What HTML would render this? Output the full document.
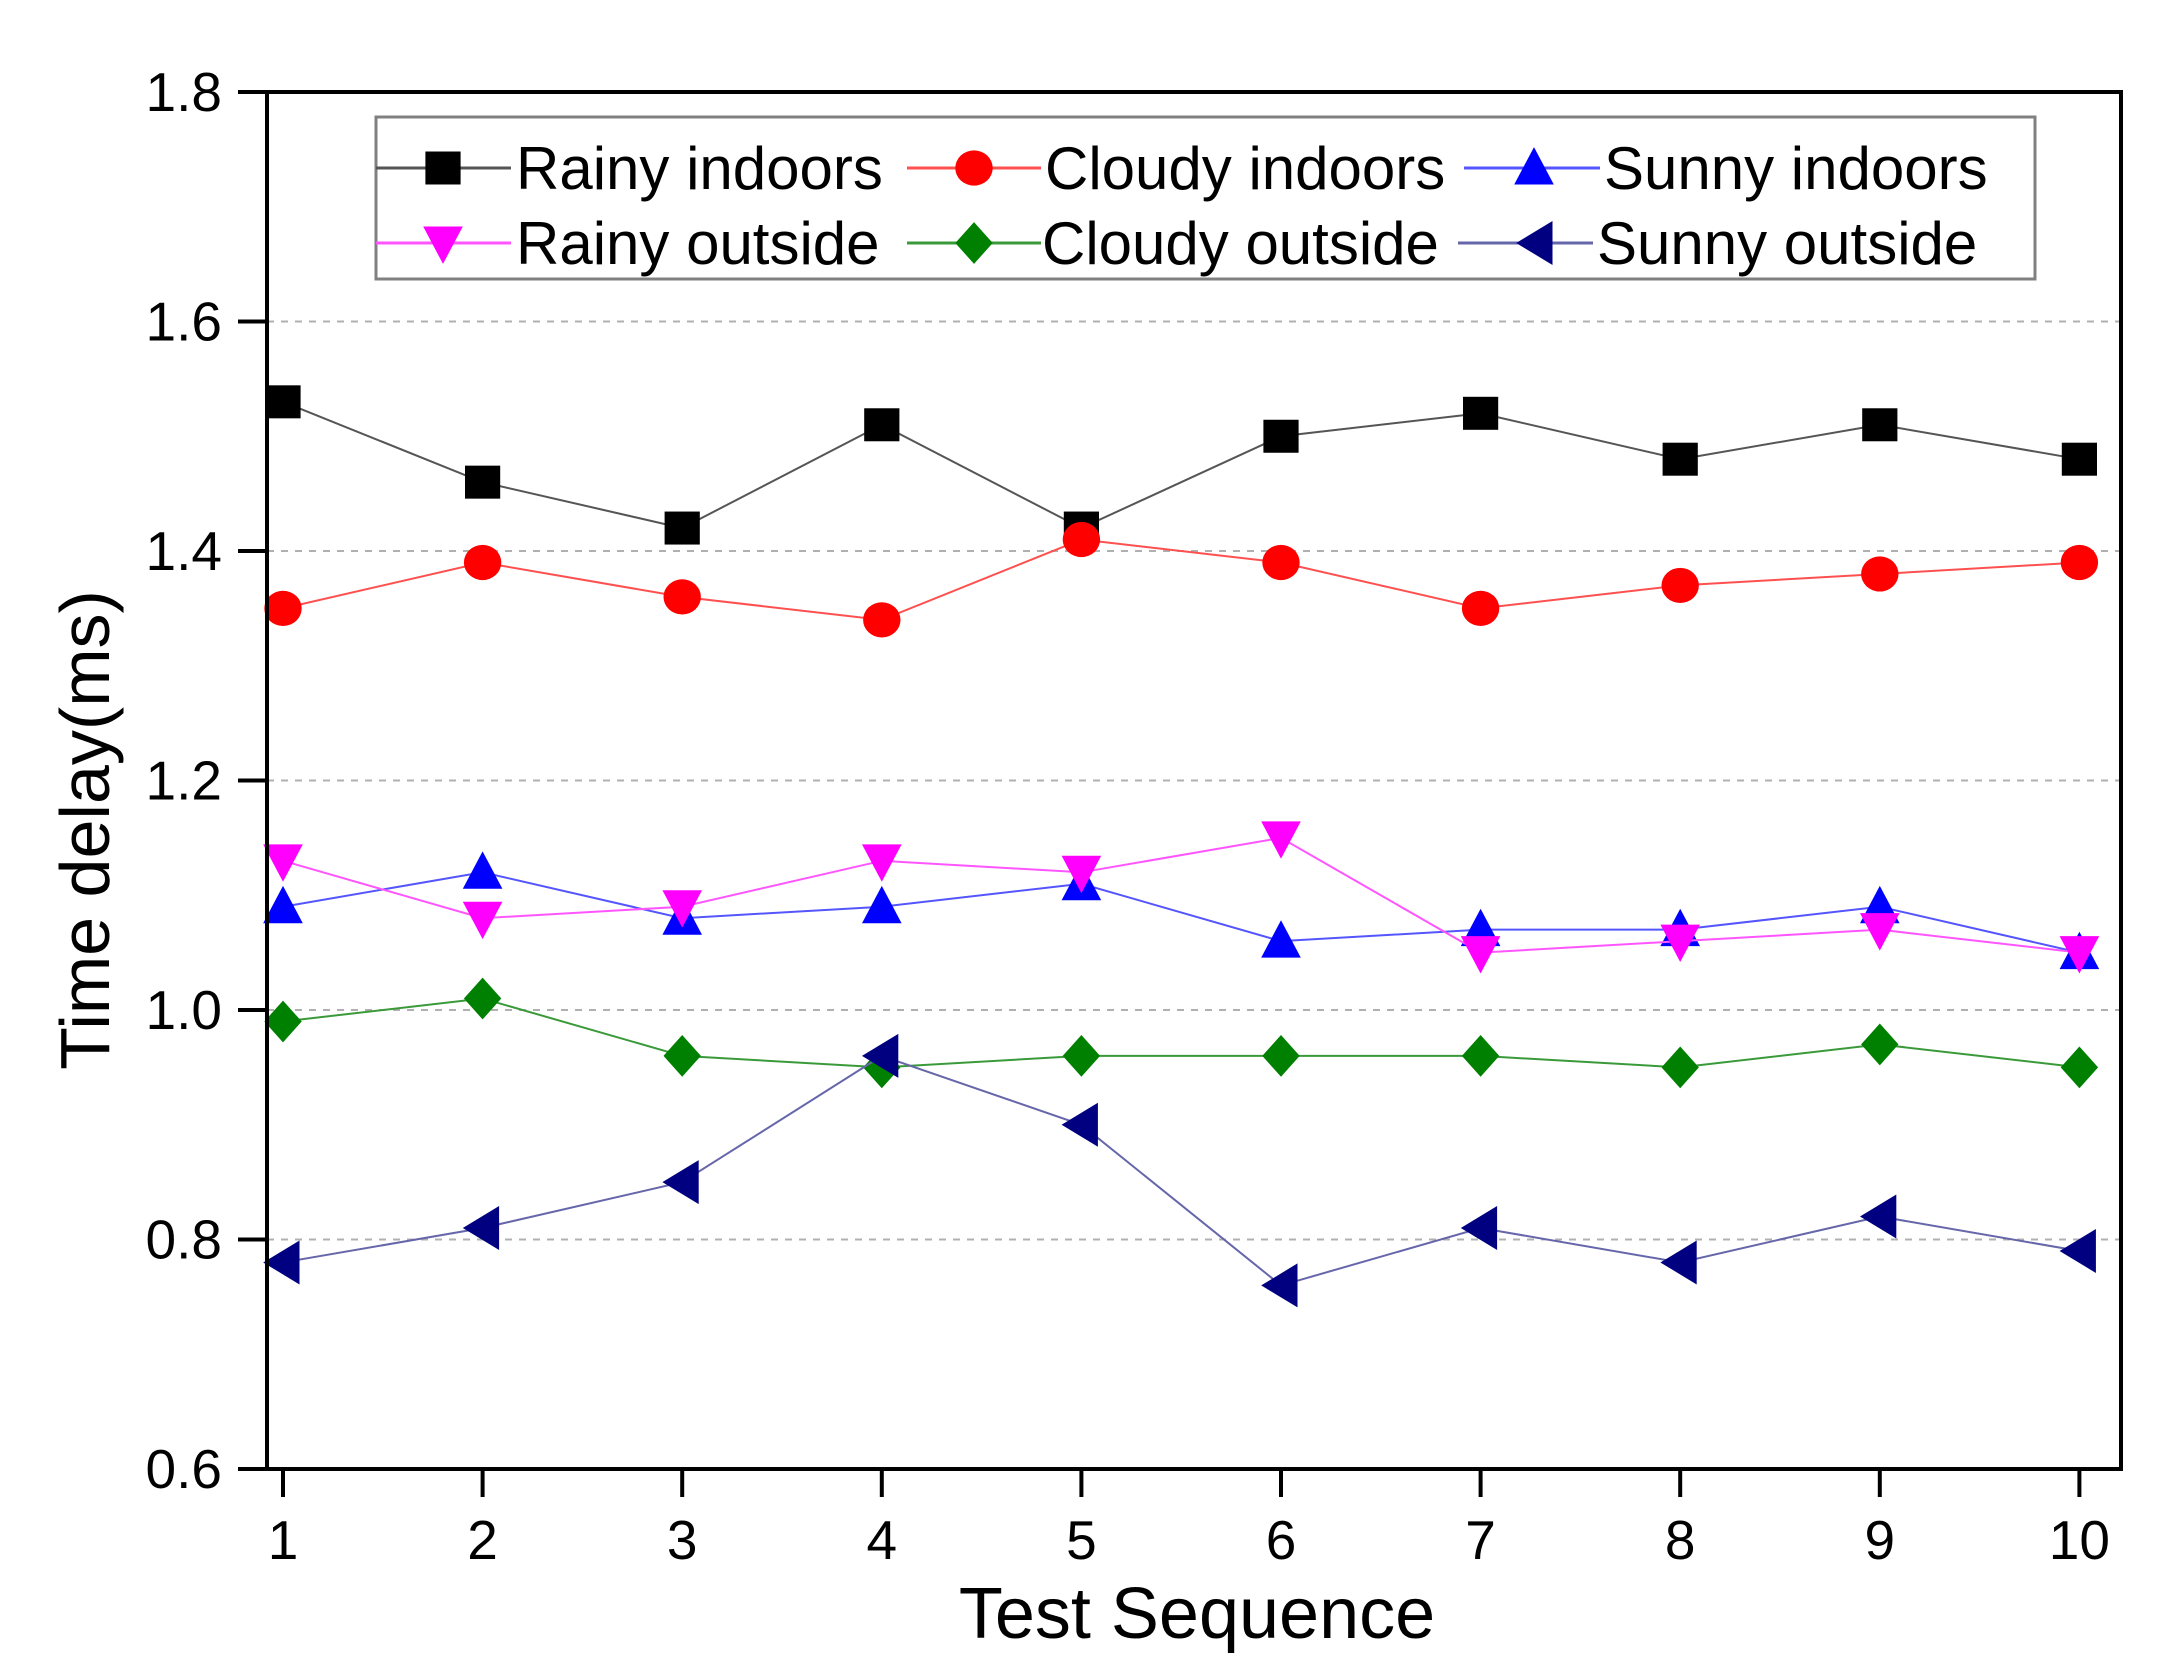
<!DOCTYPE html>
<html><head><meta charset="utf-8"><style>
html,body{margin:0;padding:0;background:#fff;}
svg{display:block;font-family:"Liberation Sans",Arial,sans-serif;}
</style></head><body>
<svg id="chart" width="2171" height="1675" viewBox="0 0 2171 1675" xmlns="http://www.w3.org/2000/svg">
<g id="grid"></g>
<g id="series"></g>
<g id="axes"></g>
<g id="legend"></g>
<text x="1197" y="1638" font-size="72" text-anchor="middle">Test Sequence</text>
<text transform="translate(109,830) rotate(-90)" font-size="70" text-anchor="middle">Time delay(ms)</text>
</svg>
<script>
const categories = [1,2,3,4,5,6,7,8,9,10];
const yTicks = [0.6,0.8,1.0,1.2,1.4,1.6,1.8];
const yTickLabels = ["0.6","0.8","1.0","1.2","1.4","1.6","1.8"];
const gridValues = [0.8,1.0,1.2,1.4,1.6];
const seriesNames = ["Rainy indoors","Cloudy indoors","Sunny indoors","Rainy outside","Cloudy outside","Sunny outside"];
const rainyIndoors = [1.53,1.46,1.42,1.51,1.42,1.50,1.52,1.48,1.51,1.48];
const cloudyIndoors = [1.35,1.39,1.36,1.34,1.41,1.39,1.35,1.37,1.38,1.39];
const sunnyIndoors = [1.09,1.12,1.08,1.09,1.11,1.06,1.07,1.07,1.09,1.05];
const rainyOutside = [1.13,1.08,1.09,1.13,1.12,1.15,1.05,1.06,1.07,1.05];
const cloudyOutside = [0.99,1.01,0.96,0.95,0.96,0.96,0.96,0.95,0.97,0.95];
const sunnyOutside = [0.78,0.81,0.85,0.96,0.90,0.76,0.81,0.78,0.82,0.79];

const NS = "http://www.w3.org/2000/svg";
const L = 267, R = 2121, T = 92, B = 1469;
const yMin = 0.6, yMax = 1.8;
function xs(c){ return 283 + (c - 1) * 199.6; }
function ys(v){ return B - (v - yMin) / (yMax - yMin) * (B - T); }
function mk(tag, attrs, parent){
  const e = document.createElementNS(NS, tag);
  for (const k in attrs) e.setAttribute(k, attrs[k]);
  parent.appendChild(e); return e;
}
const grid = document.getElementById('grid');
const axes = document.getElementById('axes');
const seriesG = document.getElementById('series');
const legend = document.getElementById('legend');

gridValues.forEach(v => {
  const l = mk('line', {x1:L, x2:R, y1:ys(v), y2:ys(v), stroke:'#b0b0b0', 'stroke-width':2, 'stroke-dasharray':'7,7'}, grid);
  
  
});

const styles = [
  {data: rainyIndoors, line:'#555', fill:'#000', m:'square'},
  {data: cloudyIndoors, line:'#ff5050', fill:'#ff0000', m:'circle'},
  {data: sunnyIndoors, line:'#5555ff', fill:'#0000ff', m:'up'},
  {data: rainyOutside, line:'#ff55ff', fill:'#ff00ff', m:'down'},
  {data: cloudyOutside, line:'#3a9a3a', fill:'#008000', m:'diamond'},
  {data: sunnyOutside, line:'#6666aa', fill:'#000080', m:'left'}
];
function marker(type, x, y, fill, parent){
  let e; const k = 1.1;
  if (type === 'square') e = mk('rect', {x:x-16*k, y:y-15*k, width:32*k, height:30*k, fill:fill}, parent);
  else if (type === 'circle') e = mk('ellipse', {cx:x, cy:y, rx:17*k, ry:16*k, fill:fill}, parent);
  else if (type === 'up') e = mk('polygon', {points:`${x},${y-19*k} ${x+18*k},${y+15*k} ${x-18*k},${y+15*k}`, fill:fill}, parent);
  else if (type === 'down') e = mk('polygon', {points:`${x},${y+19*k} ${x+18*k},${y-15*k} ${x-18*k},${y-15*k}`, fill:fill}, parent);
  else if (type === 'diamond') e = mk('polygon', {points:`${x},${y-19*k} ${x+17*k},${y} ${x},${y+19*k} ${x-17*k},${y}`, fill:fill}, parent);
  else e = mk('polygon', {points:`${x-18*k},${y} ${x+15*k},${y-20*k} ${x+15*k},${y+20*k}`, fill:fill}, parent);
  return e;
}
styles.forEach((st, si) => {
  const g = mk('g', {}, seriesG);
  
  
  const pts = st.data.map((v, i) => xs(categories[i]) + ',' + ys(v)).join(' ');
  const pl = mk('polyline', {points:pts, fill:'none', stroke:st.line, 'stroke-width':2}, g);
  
  
  st.data.forEach((v, i) => {
    const m = marker(st.m, xs(categories[i]), ys(v), st.fill, g);
    
    
  });
});

const fr = mk('rect', {x:L, y:T, width:R-L, height:B-T, fill:'none', stroke:'#000', 'stroke-width':4}, axes);


yTicks.forEach((v, i) => {
  const t = mk('line', {x1:238, x2:L, y1:ys(v), y2:ys(v), stroke:'#000', 'stroke-width':4}, axes);
  
  
  const tx = mk('text', {x:222, y:ys(v)+19, 'font-size':55, 'text-anchor':'end'}, axes);
  tx.textContent = yTickLabels[i];
  
  
});
categories.forEach(c => {
  const t = mk('line', {x1:xs(c), x2:xs(c), y1:B, y2:1497, stroke:'#000', 'stroke-width':4}, axes);
  
  
  const tx = mk('text', {x:xs(c), y:1559, 'font-size':55, 'text-anchor':'middle'}, axes);
  tx.textContent = String(c);
  
  
});

const lb = mk('rect', {x:376, y:117, width:1659, height:162, fill:'#fff', stroke:'#808080', 'stroke-width':3}, legend);


const legPos = [
  {x0:376, x1:511, mx:443, tx:516, y:168},
  {x0:907, x1:1041, mx:974, tx:1045, y:168},
  {x0:1464, x1:1600, mx:1534, tx:1604, y:168},
  {x0:376, x1:511, mx:443, tx:516, y:243},
  {x0:907, x1:1041, mx:974, tx:1042, y:243},
  {x0:1458, x1:1593, mx:1536, tx:1597, y:243}
];
styles.forEach((st, i) => {
  const p = legPos[i];
  const g = mk('g', {}, legend);
  
  
  mk('line', {x1:p.x0, x2:p.x1, y1:p.y, y2:p.y, stroke:st.line, 'stroke-width':3}, g);
  marker(st.m, p.mx, p.y, st.fill, g);
  const t = mk('text', {x:p.tx, y:p.y+21, 'font-size':60}, g);
  t.textContent = seriesNames[i];
});
</script>
</body></html>
